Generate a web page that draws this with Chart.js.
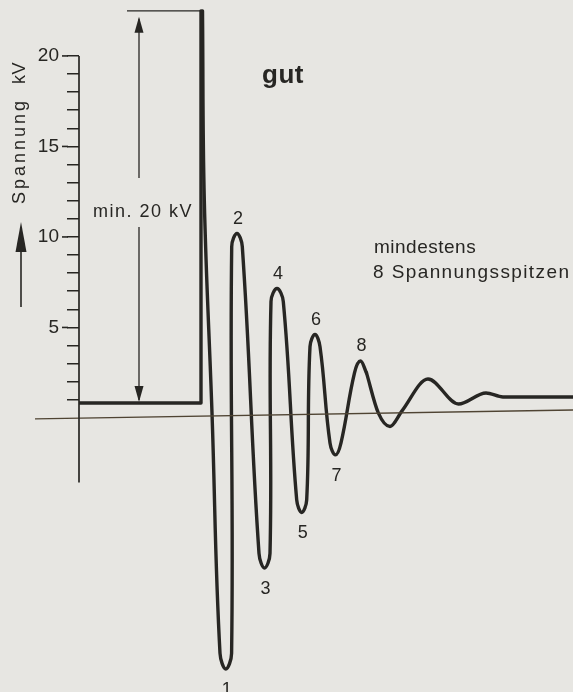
<!DOCTYPE html>
<html>
<head>
<meta charset="utf-8">
<script src="https://cdn.jsdelivr.net/npm/chart.js@4.4.1/dist/chart.umd.min.js"></script>
<style>
  html, body { margin: 0; padding: 0; background: #e7e6e2; }
  #wrap { width: 573px; height: 692px; position: relative; }
</style>
</head>
<body>
<div id="wrap"><canvas id="chart"></canvas></div>
<script>
// Zündspannung "gut" - x: Zeit (willkürliche Einheiten), y: Spannung in kV
const yTickLabels = [5, 10, 15, 20];

// Schliesszeit + Spannungsanstieg
const dwellX  = [0, 122, 122];
const dwellKV = [0.83, 0.83, 22.49];

// Spannungsspitzen 1..8, with the points on either side of each tip
const spikeX  = [123.5, 125.3, 133, 141, 146.8, 152.6, 152.7, 158, 163.3, 180, 185.5, 191, 192, 198, 204.3,
                 217.7, 222.7, 227.7, 231, 236, 241, 251, 256.5, 262, 275.5, 281.5, 287.5];
const spikeKV = [22.49, 12.04, 0.28, -13.0, -13.87, -13.0, 9.46, 10.19, 9.46, -7.48, -8.29, -7.48, 6.43, 7.15, 6.43,
                 -4.53, -5.22, -4.53, 3.94, 4.61, 3.94, -1.38, -2.04, -1.38, 2.49, 3.15, 2.49];

// Ausschwingen
const tailX  = [287.5, 299.3, 311, 323, 349, 379.5, 407, 424, 494];
const tailKV = [2.49, 0.28, -0.47, 0.39, 2.15, 0.77, 1.38, 1.16, 1.16];

// positions in spikeX of the numbered spikes 1..8
const spikeIndex = [4, 7, 10, 13, 16, 19, 22, 25];

const zeroLineX  = [-44, 494];
const zeroLineKV = [-0.05, 0.44];

const ink = '#272623';
const font = '"Liberation Sans", Arial, Helvetica, sans-serif';

const toPoints = (xs, ys) => xs.map((v, i) => ({ x: v, y: ys[i] }));

function line(ctx, x1, y1, x2, y2, w) {
  ctx.lineWidth = w;
  ctx.beginPath(); ctx.moveTo(x1, y1); ctx.lineTo(x2, y2); ctx.stroke();
}
function arrowHead(ctx, x, tipY, dir, len, half) {
  ctx.beginPath();
  ctx.moveTo(x, tipY);
  ctx.lineTo(x - half, tipY + dir * len);
  ctx.lineTo(x + half, tipY + dir * len);
  ctx.closePath(); ctx.fill();
}

const paper = {
  id: 'paper',
  beforeDraw(chart) {
    const { ctx, width, height } = chart;
    ctx.save();
    ctx.fillStyle = '#e7e6e2';
    ctx.fillRect(0, 0, width, height);
    ctx.restore();
  }
};

const drawings = {
  id: 'drawings',
  afterDatasetsDraw(chart) {
    const { ctx, scales: { x, y } } = chart;
    ctx.save();
    ctx.strokeStyle = ink;
    ctx.fillStyle = ink;

    // y axis line, from 20 kV down below the zero line
    const ax = x.getPixelForValue(0);
    line(ctx, ax, y.getPixelForValue(20), ax, y.getPixelForValue(-3.56), 1.7);
    // longer major ticks
    yTickLabels.forEach(v => {
      const py = y.getPixelForValue(v);
      line(ctx, ax - 17, py, ax - 11, py, 1.6);
    });

    // dimension "min. 20 kV"
    const dx = x.getPixelForValue(60);
    const topY = y.getPixelForValue(dwellKV[2]);
    const botY = y.getPixelForValue(dwellKV[0]);
    line(ctx, x.getPixelForValue(48), topY, x.getPixelForValue(121), topY, 1.4);
    line(ctx, dx, topY + 8, dx, 178, 1.3);
    line(ctx, dx, 227, dx, botY - 3, 1.3);
    arrowHead(ctx, dx, topY + 6, 1, 16, 4.5);
    arrowHead(ctx, dx, botY - 1, -1, 16, 4.5);

    ctx.textBaseline = 'alphabetic';
    ctx.font = `18px ${font}`;
    ctx.letterSpacing = '1.5px';
    ctx.textAlign = 'center';
    ctx.fillText('min. 20 kV', 143, 217);

    // title and note
    ctx.letterSpacing = '0.5px';
    ctx.textAlign = 'left';
    ctx.font = `bold 26px ${font}`;
    ctx.fillText('gut', 262, 83);
    ctx.font = `19px ${font}`;
    ctx.fillText('mindestens', 374, 253);
    ctx.letterSpacing = '1.4px';
    ctx.fillText('8 Spannungsspitzen', 373, 278);

    // spike numbers
    ctx.letterSpacing = '0px';
    ctx.textAlign = 'center';
    ctx.font = `18px ${font}`;
    spikeIndex.forEach((idx, k) => {
      const px = x.getPixelForValue(spikeX[idx]) + 1;
      const py = y.getPixelForValue(spikeKV[idx]);
      ctx.fillText(String(k + 1), px, spikeKV[idx] > 0 ? py - 10 : py + 26);
    });

    // axis title with arrow
    ctx.save();
    ctx.translate(25, 204);
    ctx.rotate(-Math.PI / 2);
    ctx.textAlign = 'left';
    ctx.font = `18px ${font}`;
    ctx.letterSpacing = '3px';
    ctx.fillText('Spannung', 0, 0);
    ctx.letterSpacing = '0.5px';
    ctx.fillText('kV', 120, 0);
    ctx.restore();
    line(ctx, 21, 307, 21, 240, 1.6);
    arrowHead(ctx, 21, 222, 1, 30, 5.5);

    ctx.restore();
  }
};

const curve = { borderColor: ink, borderWidth: 3.4, pointRadius: 0, borderJoinStyle: 'round', borderCapStyle: 'round' };

new Chart(document.getElementById('chart'), {
  type: 'line',
  data: {
    datasets: [
      {
        data: toPoints(zeroLineX, zeroLineKV),
        borderColor: '#4f4433', borderWidth: 1.4, pointRadius: 0, clip: false, tension: 0
      },
      { ...curve, data: toPoints(dwellX, dwellKV), tension: 0 },
      { ...curve, data: toPoints(spikeX, spikeKV), tension: 0.4 },
      { ...curve, data: toPoints(tailX, tailKV), cubicInterpolationMode: 'monotone' }
    ]
  },
  options: {
    responsive: true,
    maintainAspectRatio: false,
    animation: false,
    layout: { padding: 0, autoPadding: false },
    plugins: { legend: { display: false }, tooltip: { enabled: false } },
    scales: {
      x: { type: 'linear', min: 0, max: 494, display: false },
      y: {
        min: -15.14, max: 23.09,
        afterFit: s => { s.width = 79; s.paddingTop = 0; s.paddingBottom = 0; },
        afterBuildTicks: s => { s.ticks = s.ticks.filter(t => t.value >= 1 && t.value <= 20); },
        border: { display: false },
        grid: { drawOnChartArea: false, drawTicks: true, tickLength: 12, color: ink, lineWidth: 1.5 },
        ticks: {
          stepSize: 1, autoSkip: false, padding: 8, color: ink,
          font: { family: font, size: 19 },
          callback: v => yTickLabels.includes(v) ? v : ''
        }
      }
    }
  },
  plugins: [paper, drawings]
});
</script>
</body>
</html>
